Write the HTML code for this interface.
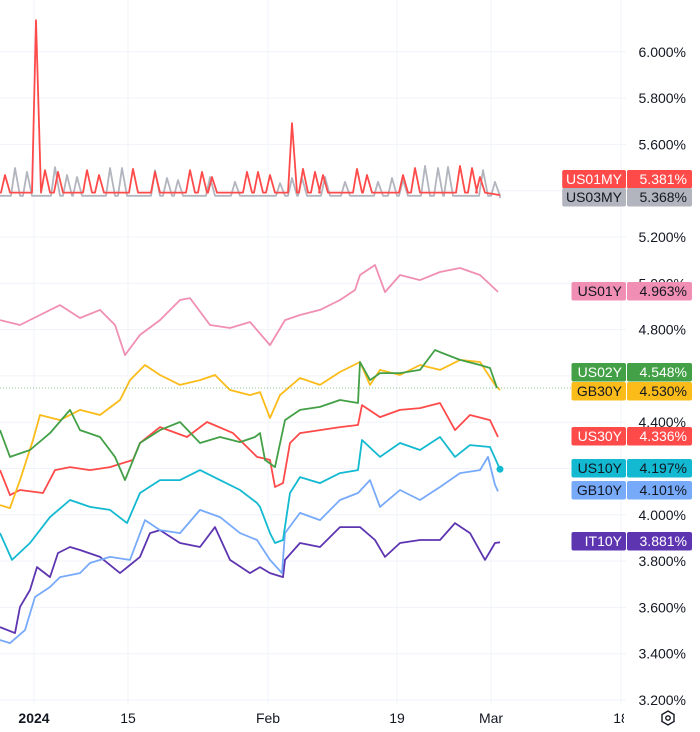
<!DOCTYPE html>
<html><head><meta charset="utf-8">
<style>
html,body{margin:0;padding:0;background:#fff;}
body{width:700px;height:732px;overflow:hidden;font-family:"Liberation Sans",sans-serif;}
svg{display:block;}
</style></head>
<body>
<svg id="chart" width="700" height="732" viewBox="0 0 700 732" xmlns="http://www.w3.org/2000/svg">
<g id="grid"></g>
<g id="series"></g>
<g id="yaxis"></g>
<g id="labels"></g>
<g id="xaxis"></g>
<g transform="translate(668,718)">
<rect x="-44" y="-12" width="76" height="24" fill="#fff"/>
<polygon points="0,-7 6,-3.5 6,3.5 0,7 -6,3.5 -6,-3.5" fill="none" stroke="#131722" stroke-width="1.4"/>
<circle r="2.2" fill="none" stroke="#131722" stroke-width="1.4"/>
</g>
</svg>
<script>
// ---- data (time index t ; yield %) ----
const yTicks=[6.0,5.8,5.6,5.4,5.2,5.0,4.8,4.6,4.4,4.2,4.0,3.8,3.6,3.4,3.2];
const xTickT=[3.4,12.8,26.8,39.7,49.1,62.1];
const xTickLabels=["2024","15","Feb","19","Mar","18"];

const gb30T=[0,1,2,3.3,4,6,8,10,12,13,14.5,16,18,20,21.5,23,25,26,27,28,30,32,34,36,37,38,40,42,44,46,48,49.5,50];
const gb30V=[4.042,4.029,4.150,4.323,4.431,4.409,4.453,4.431,4.496,4.582,4.647,4.604,4.561,4.582,4.604,4.539,4.517,4.530,4.418,4.517,4.591,4.561,4.617,4.660,4.561,4.626,4.604,4.647,4.626,4.669,4.660,4.561,4.539];

const us02T=[0,1,3,5,7,8,10,11.5,12.5,14,16,18,20,22,24,25.5,26,26.5,27.5,28.5,30,32,34,35.8,36,37,38,40,42,43.5,44,46,48,49,49.7];
const us02V=[4.366,4.250,4.280,4.353,4.453,4.366,4.336,4.250,4.150,4.310,4.366,4.401,4.310,4.336,4.314,4.336,4.353,4.237,4.206,4.409,4.453,4.466,4.496,4.483,4.660,4.582,4.612,4.612,4.626,4.712,4.703,4.669,4.647,4.634,4.548];

const us30T=[0,1,2,4.3,5.5,7,9,11,13.3,14,16,18.7,20.7,23.3,25.7,27,27.5,28.3,29,30,32,34,35.8,36.2,38,40,42,44,45.5,47,49,49.8];
const us30V=[4.193,4.085,4.107,4.094,4.193,4.206,4.193,4.206,4.237,4.310,4.379,4.336,4.401,4.353,4.250,4.237,4.120,4.137,4.310,4.353,4.366,4.379,4.388,4.474,4.422,4.453,4.461,4.483,4.366,4.431,4.409,4.336];

const us10T=[0,1.2,3,5,7,9,11,12.7,14,16,18,20,22,24,25.7,26,27,27.5,28.3,29,30,32,34,35.8,36.2,38,40,42,44,45.5,47,49,50];
const us10V=[3.921,3.805,3.878,3.990,4.064,4.034,4.021,3.964,4.094,4.150,4.150,4.193,4.150,4.107,4.051,4.034,3.921,3.878,3.891,4.094,4.163,4.137,4.180,4.193,4.323,4.250,4.310,4.280,4.336,4.250,4.301,4.293,4.197];

const gb10T=[0,1,2.5,3.5,5,6,8,9,11,13,14.5,16,18,20,22,24,25.7,27,28.2,28.5,30,32,34,35.8,37,38,40,42,44,46,48,48.8,49.5,49.8];
const gb10V=[3.459,3.446,3.502,3.645,3.688,3.731,3.748,3.792,3.818,3.805,3.977,3.934,3.921,4.021,3.990,3.921,3.891,3.805,3.748,3.921,4.008,3.977,4.064,4.094,4.150,4.034,4.107,4.064,4.120,4.180,4.193,4.250,4.129,4.101];

const it10T=[0,1.5,2,3,3.7,5,5.8,7,8,10,12,14,15,16,18,20,21.5,23,25,26,27,28.3,28.5,30,32,34,36,37.5,38.5,40,42,44,45.5,47,48.5,49.5,50];
const it10V=[3.515,3.489,3.602,3.675,3.774,3.731,3.835,3.861,3.848,3.818,3.748,3.818,3.921,3.934,3.878,3.861,3.947,3.805,3.748,3.774,3.748,3.731,3.805,3.878,3.861,3.947,3.947,3.891,3.818,3.878,3.891,3.891,3.964,3.921,3.805,3.878,3.881];

const us01yT=[0,2,4,6,8,10,11.5,12.5,14,16,18,19,21,23,25,27,28.5,30,32,34,35.5,36,37.5,38.5,40,42,44,46,48,49.8];
const us01yV=[4.841,4.820,4.863,4.906,4.850,4.885,4.820,4.690,4.777,4.841,4.928,4.936,4.820,4.807,4.833,4.733,4.841,4.863,4.885,4.928,4.971,5.036,5.079,4.962,5.036,5.014,5.049,5.066,5.036,4.963];

const us01mBase=5.392;
const us01mSpikeT=[0.5,3.6,4.5,5.8,8.7,9.9,13.3,15.5,19,20.2,21.2,24.7,25.8,27,29.2,30.3,31.5,32.3,35.7,36.7,40.3,41.5,46,47.2,48];
const us01mSpikeV=[5.468,6.137,5.489,5.481,5.489,5.468,5.494,5.481,5.489,5.481,5.459,5.481,5.481,5.468,5.692,5.494,5.481,5.468,5.494,5.468,5.468,5.498,5.507,5.498,5.459];
const us03mBase=5.378;
const us03mSpikeT=[1.5,2.7,5.5,6.7,7.7,11,12.2,15.5,16.7,17.8,21,23.5,28,29.2,30.2,32.5,34.5,37.8,39.2,40.3,42.5,43.8,44.8,48.3,49.5];
const us03mSpikeV=[5.498,5.481,5.502,5.468,5.459,5.498,5.498,5.489,5.455,5.446,5.459,5.438,5.433,5.455,5.455,5.459,5.438,5.438,5.455,5.446,5.507,5.498,5.503,5.489,5.438];

// ---- scales ----
function xScale(t){return t*10;}
function yScale(v){return 237-(v-5.2)*231.5;}
const NS="http://www.w3.org/2000/svg";
function el(tag,attrs,parent){const e=document.createElementNS(NS,tag);for(const k in attrs)e.setAttribute(k,attrs[k]);parent.appendChild(e);return e;}

const grid=document.getElementById('grid');
const yaxis=document.getElementById('yaxis');
yTicks.forEach(v=>{
  const y=yScale(v);
  const gl=el('line',{x1:0,x2:626,y1:y,y2:y,stroke:'#f0f3fa','stroke-width':1},grid);
  
  
  const tx=el('text',{x:686,y:y+5,'text-anchor':'end','font-size':14,fill:'#131722'},yaxis);
  tx.textContent=v.toFixed(3)+'%';
  
  
});
const xaxis=document.getElementById('xaxis');
xTickT.forEach((t,i)=>{
  const x=xScale(t);
  const gl=el('line',{x1:x,x2:x,y1:0,y2:704,stroke:'#f0f3fa','stroke-width':1},grid);
  
  
  const tx=el('text',{x:x,y:723,'text-anchor':'middle','font-size':14,fill:'#131722','font-weight':i===0?'bold':'normal'},xaxis);
  tx.textContent=xTickLabels[i];
  
  
});

const seriesG=document.getElementById('series');
function drawLine(T,V,color,name){
  const d=T.map((t,i)=>(i?'L':'M')+xScale(t).toFixed(1)+' '+yScale(V[i]).toFixed(1)).join(' ');
  const p=el('path',{d:d,fill:'none',stroke:color,'stroke-width':1.8,'stroke-linejoin':'round'},seriesG);
  
  
}
function spikeSeries(base,ST,SV,endT,endV){
  const T=[0],V=[base];
  ST.forEach((t,i)=>{T.push(t-0.4,t,t+0.5);V.push(base,SV[i],base);});
  T.push(endT);V.push(endV);
  return [T,V];
}
const g3=spikeSeries(us03mBase,us03mSpikeT,us03mSpikeV,50,5.368);
drawLine(g3[0],g3[1],'#b2b5be','us03my-line');
const r1=spikeSeries(us01mBase,us01mSpikeT,us01mSpikeV,50,5.381);
drawLine(r1[0],r1[1],'#ff4a4a','us01my-line');
drawLine(us01yT,us01yV,'#f08fb3','us01y-line');
drawLine(it10T,it10V,'#5e35b1','it10y-line');
drawLine(gb10T,gb10V,'#78aafa','gb10y-line');
drawLine(us10T,us10V,'#12b9d0','us10y-line');
drawLine(us30T,us30V,'#ff4a4a','us30y-line');
drawLine(gb30T,gb30V,'#fbbc1a','gb30y-line');
drawLine(us02T,us02V,'#43a047','us02y-line');
const dot=el('circle',{cx:xScale(50),cy:yScale(4.197),r:3.5,fill:'#12b9d0'},seriesG);


const pl=el('line',{x1:0,x2:626,y1:yScale(4.548),y2:yScale(4.548),stroke:'#43a047','stroke-width':1,'stroke-dasharray':'1 2',opacity:0.6},seriesG);



// ---- last value labels ----
const labelNames=["US01MY","US03MY","US01Y","US02Y","GB30Y","US30Y","US10Y","GB10Y","IT10Y"];
const labelValues=["5.381%","5.368%","4.963%","4.548%","4.530%","4.336%","4.197%","4.101%","3.881%"];
const labelTop=[170,188,282,363,382,427,459,481,532];
const labelBg=['#ff4a4a','#b2b5be','#f08fb3','#43a047','#fbbc1a','#ff4a4a','#12b9d0','#78aafa','#5e35b1'];
const labelFg=['#fff','#131722','#131722','#fff','#131722','#fff','#131722','#131722','#fff'];
const labelsG=document.getElementById('labels');
labelNames.forEach((n,i)=>{
  const g=el('g',{},labelsG);
  
  
  const w=n.length*9.3+8;
  const y=labelTop[i];
  el('rect',{x:626-w,y:y,width:w,height:18.5,rx:2,fill:labelBg[i]},g);
  el('rect',{x:627,y:y,width:65,height:18.5,rx:2,fill:labelBg[i]},g);
  const t1=el('text',{x:622,y:y+14,'text-anchor':'end','font-size':14,fill:labelFg[i]},g);t1.textContent=n;
  const t2=el('text',{x:687,y:y+14,'text-anchor':'end','font-size':14,fill:labelFg[i]},g);t2.textContent=labelValues[i];
});
</script>
</body></html>
